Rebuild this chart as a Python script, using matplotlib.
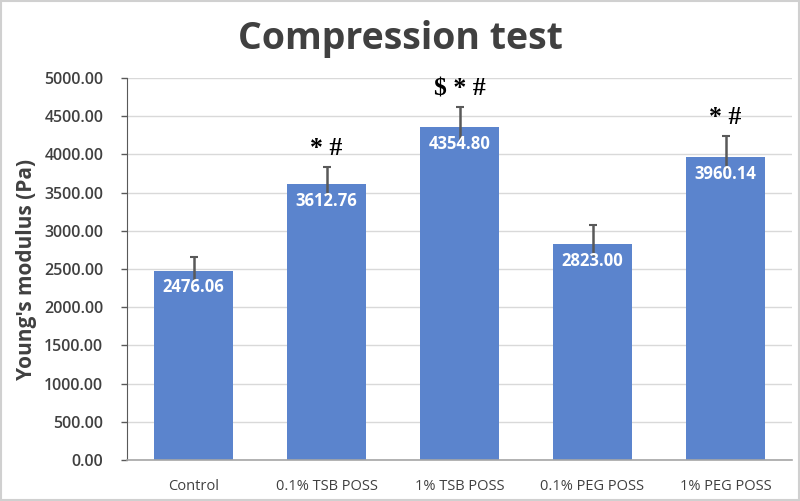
import matplotlib
matplotlib.use("Agg")
import matplotlib.pyplot as plt
from matplotlib.patches import Rectangle

categories = ["Control", "0.1% TSB POSS", "1% TSB POSS", "0.1% PEG POSS", "1% PEG POSS"]
values = [2476.06, 3612.76, 4354.80, 2823.00, 3960.14]
err_upper = [180, 222, 260, 250, 280]
err_lower = [120, 150, 170, 150, 150]
marks = ["", "* #", "$ * #", "", "* #"]
yticks = [0, 500, 1000, 1500, 2000, 2500, 3000, 3500, 4000, 4500, 5000]

DPI = 100
fig = plt.figure(figsize=(8.0, 5.01), dpi=DPI)
fig.patch.set_facecolor("white")
fig.add_artist(Rectangle((0.001, 0.001), 0.998, 0.997, transform=fig.transFigure,
                         fill=False, edgecolor="#d0d0d0", linewidth=1.5))

ax = fig.add_axes([127/800, 41/501, 665/800, 382/501])
x = list(range(len(categories)))
bar_color = "#5b84cd"
ax.bar(x, values, width=0.6, color=bar_color, zorder=2)

eb = ax.errorbar(x, values, yerr=[err_lower, err_upper], fmt="none", ecolor="#595959",
                 elinewidth=1.8, capsize=3, capthick=1.5, zorder=3)
eb[1][0].set_visible(False)

for xi, v, m, eu in zip(x, values, marks, err_upper):
    ax.annotate(f"{v:.2f}", (xi, v), xytext=(0, -12), textcoords="offset points",
                ha="center", va="center", color="white", fontsize=12,
                fontweight="bold", family="Open Sans", zorder=4)
    if m:
        ax.annotate(m, (xi, v + eu), xytext=(0, 5), textcoords="offset points",
                    ha="center", va="bottom", color="black", fontsize=18.5,
                    fontweight="bold", family="Liberation Serif", zorder=4)

ax.set_xlim(-0.5, len(categories) - 0.5)
ax.set_ylim(0, 5000)
ax.set_yticks(yticks)
ax.set_yticklabels([f"{t:.2f}" for t in yticks], family="Open Sans", fontsize=11.5,
                   fontweight="semibold", color="#404040")
ax.set_xticks(x)
ax.set_xticklabels(categories, family="Open Sans", fontsize=10.5, color="#404040")
ax.tick_params(axis="x", length=0, pad=14)
ax.tick_params(axis="y", length=4, width=1, color="#595959", direction="out", pad=13)
ax.yaxis.grid(True, color="#d9d9d9", linewidth=1, zorder=0)
ax.set_axisbelow(True)
for s in ["top", "right"]:
    ax.spines[s].set_visible(False)
ax.spines["left"].set_color("#595959")
ax.spines["bottom"].set_color("#a6a6a6")
ax.spines["bottom"].set_linewidth(1.2)

ax.set_ylabel("Young's modulus (Pa)", family="Open Sans", fontsize=15,
              fontweight="bold", color="#404040", labelpad=5)
fig.text(0.5, 0.922, "Compression test", ha="center", va="center",
         family="Open Sans", fontsize=27, fontweight="bold", color="#404040")

fig.savefig("out.png", dpi=DPI)
